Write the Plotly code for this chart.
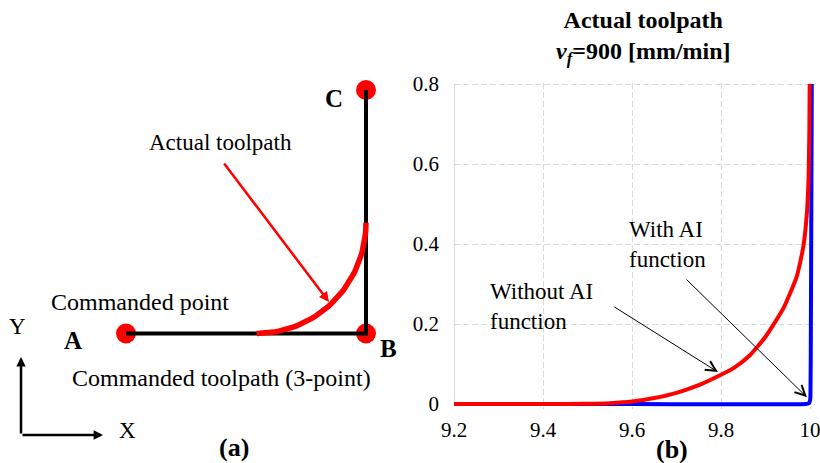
import numpy as np
import plotly.graph_objects as go

W, H = 820, 463
FONT = "Liberation Serif, Times New Roman, Times, serif"

# ---------------- panel (b): toolpath near corner B, v_f = 900 mm/min ----------------
without_ai_x = [9.20, 9.40, 9.50, 9.55, 9.60, 9.65, 9.70, 9.75, 9.80, 9.83, 9.865,
                9.90, 9.94, 9.97, 9.985, 9.993, 9.9966, 9.9985, 9.9993]
without_ai_y = [0.0, 0.0, 0.0005, 0.002, 0.006, 0.015, 0.028, 0.047, 0.073, 0.091, 0.122,
                0.168, 0.239, 0.318, 0.393, 0.477, 0.560, 0.680, 0.800]

with_ai_x = [9.20, 9.60, 9.990, 9.997, 10.000, 10.001, 10.002, 10.003, 10.004]
with_ai_y = [0.0, 0.0, 0.0, 0.002, 0.008, 0.020, 0.200, 0.500, 0.800]

x_ticks = [9.2, 9.4, 9.6, 9.8, 10.0]
x_tick_text = ["9.2", "9.4", "9.6", "9.8", "10"]
y_ticks = [0.0, 0.2, 0.4, 0.6, 0.8]
y_tick_text = ["0", "0.2", "0.4", "0.6", "0.8"]

# ---------------- panel (a): commanded 3-point path A-B-C with blended corner ----------------
corner_names = ["A", "B", "C"]
corner_x = [0.0, 1.0, 1.0]
corner_y = [0.0, 0.0, 1.0]
blend_radius = 0.455


def px(x):
    return x / W


def py(y):
    return 1 - y / H


# pixel layout of the measured-toolpath axes
X0, XPU = 454.0, 445.0      # pixel of x = 9.2, pixels per mm
Y0, YPU = 404.0, 400.0      # pixel of y = 0, pixels per mm
x_range = [9.2, 10.012]
y_range = [-0.012, 0.803]
x_dom = [(X0 + (x_range[0] - 9.2) * XPU) / W, (X0 + (x_range[1] - 9.2) * XPU) / W]
y_dom = [py(Y0 - y_range[0] * YPU), py(Y0 - y_range[1] * YPU)]

# pixel layout of the schematic axes
SX, SY = 240.0, 243.5       # pixels per schematic unit
OX, OY = 126.0, 333.5       # pixel position of point A
S_RIGHT = 410.0

fig = go.Figure()

# ---- schematic ----
fig.add_trace(go.Scatter(
    x=corner_x, y=corner_y, mode="markers",
    marker=dict(size=20, color="#ff0000", line=dict(width=0)),
    xaxis="x2", yaxis="y2", hoverinfo="skip"))
fig.add_trace(go.Scatter(
    x=corner_x, y=corner_y, mode="lines",
    line=dict(color="black", width=4),
    xaxis="x2", yaxis="y2", hoverinfo="skip"))

# corner blend: quarter arc tangent to AB and BC
cx, cy = corner_x[1] - blend_radius, corner_y[1] + blend_radius
theta = np.linspace(-np.pi / 2, 0, 60)
fig.add_trace(go.Scatter(
    x=cx + blend_radius * np.cos(theta), y=cy + blend_radius * np.sin(theta),
    mode="lines", line=dict(color="#ff0000", width=5.5),
    xaxis="x2", yaxis="y2", hoverinfo="skip"))

# ---- measured toolpaths ----
fig.add_trace(go.Scatter(
    x=with_ai_x, y=with_ai_y, mode="lines",
    line=dict(color="#0000ff", width=4, shape="spline", smoothing=0.5),
    hoverinfo="skip"))
fig.add_trace(go.Scatter(
    x=without_ai_x, y=without_ai_y, mode="lines",
    line=dict(color="#ff0000", width=4, shape="spline", smoothing=0.5),
    hoverinfo="skip"))

annotations = []


def text(t, x, y, size=22, bold=False, align="center", xanchor="center"):
    if bold:
        t = "<b>" + t + "</b>"
    annotations.append(dict(
        text=t, x=px(x), y=py(y), xref="paper", yref="paper",
        xanchor=xanchor, yanchor="middle", align=align, showarrow=False,
        font=dict(family=FONT, size=size, color="black")))


# schematic labels
text("Actual toolpath", 220, 142, size=23)
text("Commanded point", 140, 302, size=24)
text("Commanded toolpath (3-point)", 221, 378, size=24)
text(corner_names[0], 73, 340, size=25, bold=True)
text(corner_names[1], 388, 348, size=25, bold=True)
text(corner_names[2], 334, 98, size=25, bold=True)
text("Y", 17, 326, size=23)
text("X", 127, 430, size=23)
text("(a)", 234, 447, size=26, bold=True)
text("(b)", 672, 449, size=26, bold=True)

# plot title
text("<b>Actual toolpath</b><br><b><i>v</i><sub><i>f</i></sub>=900 [mm/min]</b>",
     643, 37, size=24)

# curve labels
text("With AI<br>function", 627, 244, size=23, align="left", xanchor="left")
text("Without AI<br>function", 488, 306, size=23, align="left", xanchor="left")

# coordinate-frame arrows
for tip, tail in [((21, 357), (21, 435)), ((103, 435), (21, 435))]:
    annotations.append(dict(
        text="", x=px(tip[0]), y=py(tip[1]), xref="paper", yref="paper",
        ax=tail[0] - tip[0], ay=tail[1] - tip[1], axref="pixel", ayref="pixel",
        showarrow=True, arrowhead=2, arrowsize=0.75, arrowwidth=2.5,
        arrowcolor="black", standoff=0))

# pointer to the blended corner
annotations.append(dict(
    text="", x=px(329), y=py(302), xref="paper", yref="paper",
    ax=223 - 329, ay=162 - 302, axref="pixel", ayref="pixel",
    showarrow=True, arrowhead=2, arrowsize=0.8, arrowwidth=2.5,
    arrowcolor="#ff0000", standoff=0))

# pointers to the measured curves
for tip, tail in [((9.993, 0.017), (9.719, 0.315)), ((9.793, 0.080), (9.557, 0.245))]:
    annotations.append(dict(
        text="", x=tip[0], y=tip[1], xref="x", yref="y",
        ax=tail[0], ay=tail[1], axref="x", ayref="y",
        showarrow=True, arrowhead=5, arrowsize=2, arrowwidth=1,
        arrowcolor="black", standoff=0))

axis_grey = "#c8c8c8"
shapes = [
    dict(type="line", xref="x", yref="y", x0=9.2, x1=9.2, y0=0, y1=0.8,
         line=dict(color=axis_grey, width=1.2), layer="between"),
    dict(type="line", xref="x", yref="y", x0=9.2, x1=10.0, y0=0, y1=0,
         line=dict(color=axis_grey, width=1.2), layer="between"),
]

fig.update_layout(
    width=W, height=H,
    margin=dict(l=0, r=0, t=0, b=0, autoexpand=False),
    paper_bgcolor="white", plot_bgcolor="rgba(0,0,0,0)",
    showlegend=False,
    font=dict(family=FONT, size=21, color="black"),
    xaxis=dict(domain=x_dom, range=x_range, anchor="y", automargin=False,
               tickvals=x_ticks, ticktext=x_tick_text, ticks="",
               ticklabeloverflow="allow",
               showgrid=True, gridcolor="#d9d9d9", gridwidth=1, griddash="6px,3px",
               zeroline=False, showline=False, ticklabelstandoff=6,
               tickfont=dict(family=FONT, size=21, color="black")),
    yaxis=dict(domain=y_dom, range=y_range, anchor="x", automargin=False,
               tickvals=y_ticks, ticktext=y_tick_text, ticks="",
               ticklabeloverflow="allow",
               showgrid=True, gridcolor="#d9d9d9", gridwidth=1, griddash="6px,3px",
               zeroline=False, showline=False, ticklabelstandoff=14,
               tickfont=dict(family=FONT, size=21, color="black")),
    xaxis2=dict(domain=[0, S_RIGHT / W], range=[(0 - OX) / SX, (S_RIGHT - OX) / SX],
                anchor="y2", visible=False, automargin=False),
    yaxis2=dict(domain=[0, 1], range=[(OY - H) / SY, OY / SY],
                anchor="x2", visible=False, automargin=False),
    annotations=annotations,
    shapes=shapes,
)

fig.write_html("out.html")
